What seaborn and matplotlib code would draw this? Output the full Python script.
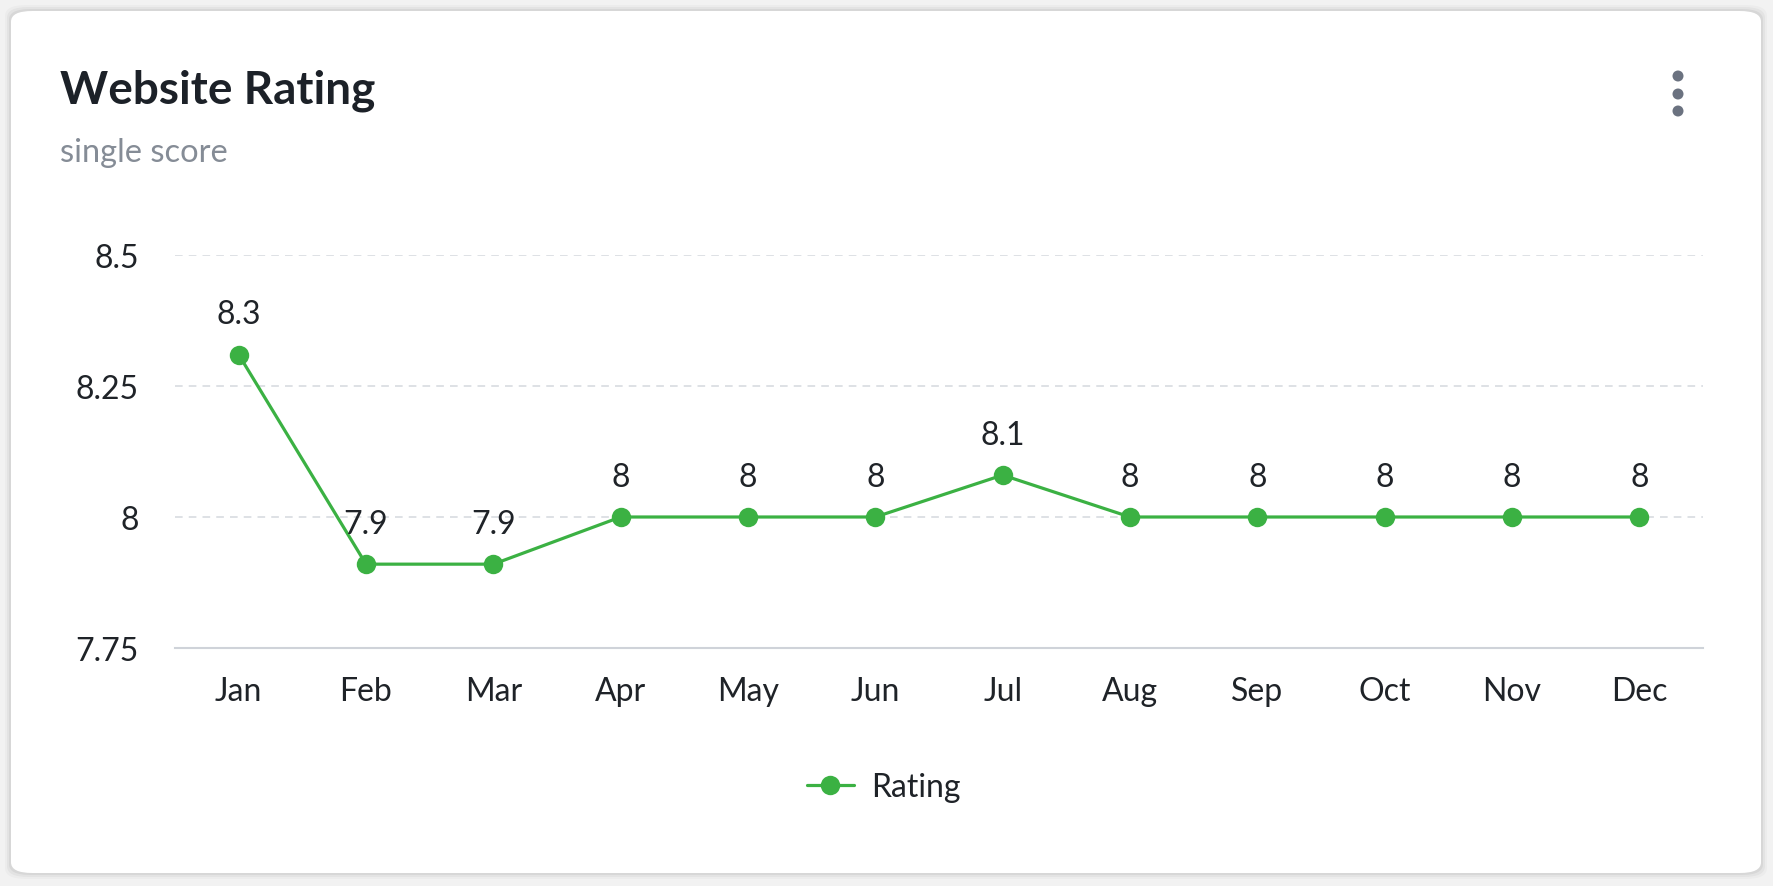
import numpy as np
import pandas as pd
import seaborn as sns
import matplotlib.pyplot as plt
from matplotlib.patches import FancyBboxPatch, Ellipse

months = ['Jan', 'Feb', 'Mar', 'Apr', 'May', 'Jun', 'Jul', 'Aug', 'Sep', 'Oct', 'Nov', 'Dec']
rating = [8.31, 7.91, 7.91, 8.0, 8.0, 8.0, 8.08, 8.0, 8.0, 8.0, 8.0, 8.0]
y_ticks = [7.75, 8.0, 8.25, 8.5]
y_tick_labels = ['7.75', '8', '8.25', '8.5']

df = pd.DataFrame({'month': months, 'Rating': rating})

sns.set_theme(style='white')
plt.rcParams['font.family'] = ['Lato', 'DejaVu Sans']

green = '#3bb143'
W, H = 1774, 887
fig = plt.figure(figsize=(W / 100, H / 100), dpi=100)
fig.patch.set_facecolor('#f2f2f2')

# card background with soft shadow
for i, a in enumerate([0.025, 0.035, 0.05]):
    d = (3 - i) * 2
    fig.patches.append(FancyBboxPatch((11 / W - d / W, 13 / H - d / H), 1750 / W + 2 * d / W, 862 / H + 2 * d / H,
                                      boxstyle='round,pad=0,rounding_size=0.012', transform=fig.transFigure,
                                      facecolor='black', alpha=a, edgecolor='none', zorder=-3))
fig.patches.append(FancyBboxPatch((11 / W, 13 / H), 1750 / W, 862 / H,
                                  boxstyle='round,pad=0,rounding_size=0.012', transform=fig.transFigure,
                                  facecolor='white', edgecolor='none', zorder=-2))

ax = fig.add_axes([175 / W, 1 - 649 / H, (1703 - 175) / W, (649 - 256) / H])
ax.set_facecolor('none')

sns.lineplot(data=df, x='month', y='Rating', ax=ax, color=green, linewidth=2.3,
             marker='o', markersize=14, markeredgewidth=0, label='Rating', sort=False)

ax.set_xlim(-0.5, len(months) - 0.5)
ax.set_ylim(7.75, 8.5)
ax.set_yticks(y_ticks)
ax.set_yticklabels(y_tick_labels)
ax.set_xlabel('')
ax.set_ylabel('')
ax.tick_params(axis='both', length=0, labelsize=23, colors='#1f2328')
ax.tick_params(axis='y', pad=26)
ax.tick_params(axis='x', pad=20)

for yv in y_ticks[1:]:
    ax.axhline(yv, color='#d5d8de', linewidth=1.1, linestyle=(0, (5, 4)), zorder=0)
for s in ['top', 'right', 'left']:
    ax.spines[s].set_visible(False)
ax.spines['bottom'].set_color('#cfd3d9')
ax.spines['bottom'].set_linewidth(1.5)

# value labels above points
for i, v in enumerate(rating):
    lbl = f'{v:.1f}'.rstrip('0').rstrip('.')
    ax.annotate(lbl, (i, v), xytext=(0, 29), textcoords='offset points',
                ha='center', va='center', fontsize=23, color='#1f2328')

ax.legend(loc='center', bbox_to_anchor=(884 / W, 1 - 788 / H), bbox_transform=fig.transFigure,
          frameon=False, fontsize=23, handlelength=1.45, handletextpad=0.55, labelcolor='#1f2328')

fig.text(60 / W, 1 - 91 / H, 'Website Rating', fontsize=33, fontweight='bold', color='#1c2128',
         ha='left', va='center')
fig.text(60 / W, 1 - 153 / H, 'single score', fontsize=23.5, color='#858c96', ha='left', va='center')

# menu dots
for yy in [77, 95, 112]:
    fig.patches.append(Ellipse((1678 / W, 1 - yy / H), 11 / W, 11 / H, transform=fig.transFigure,
                               facecolor='#6b7280', edgecolor='none'))

fig.savefig('out.png', dpi=100)
